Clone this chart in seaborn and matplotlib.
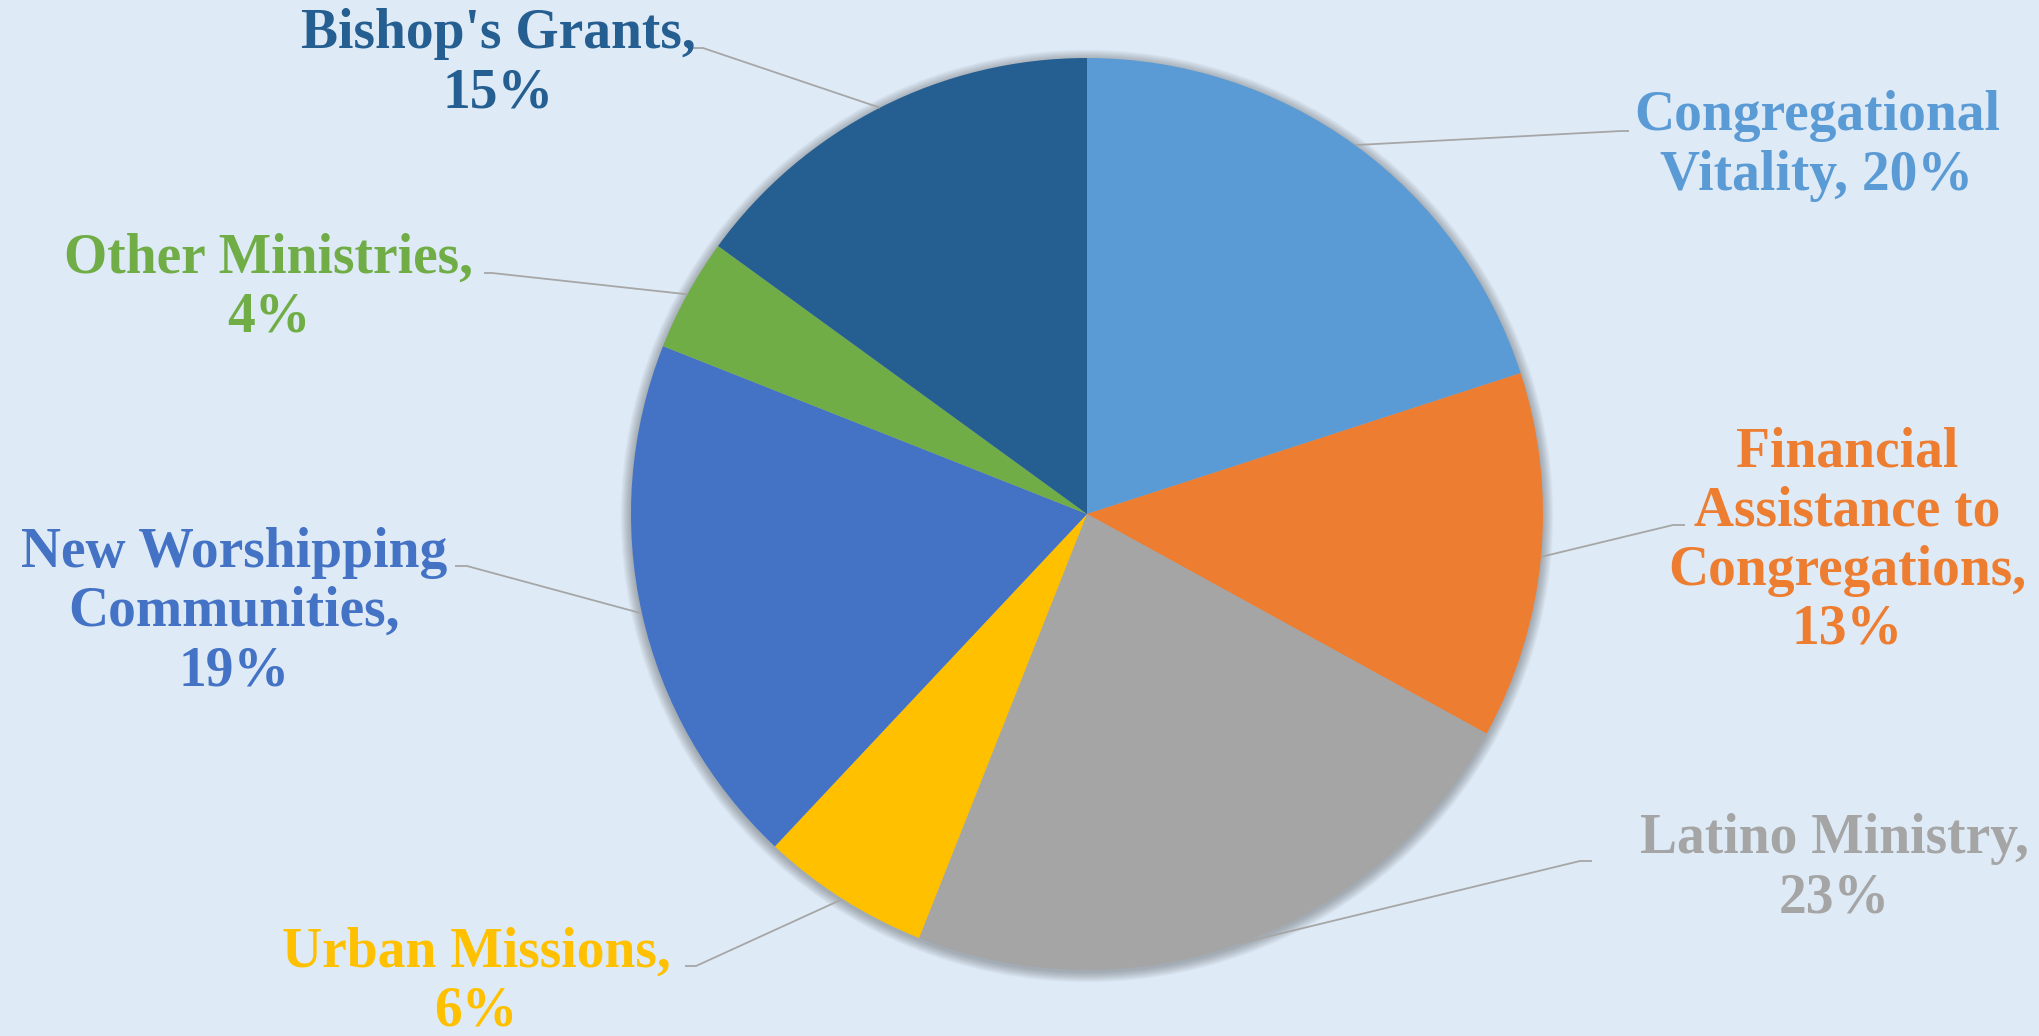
import numpy as np
import matplotlib; matplotlib.use('Agg')
import matplotlib.pyplot as plt
import seaborn as sns

# ── Data ───────────────────────────────────────────────────
categories = ['Congregational Vitality', 'Financial Assistance to Congregations',
              'Latino Ministry', 'Urban Missions', 'New Worshipping Communities',
              'Other Ministries', "Bishop's Grants"]
shares = [20, 13, 23, 6, 19, 4, 15]
label_text = ['Congregational\nVitality, {}%', 'Financial\nAssistance to\nCongregations,\n{}%',
              'Latino Ministry,\n{}%', 'Urban Missions,\n{}%', 'New Worshipping\nCommunities,\n{}%',
              'Other Ministries,\n{}%', "Bishop's Grants,\n{}%"]
colors = ['#5B9BD5', '#ED7D31', '#A5A5A5', '#FFC000', '#4472C4', '#70AD47', '#255E91']

# label block centre and leader start (pixels, y from top)
label_xy = [(1817, 146), (1847, 541), (1834, 869), (476, 982), (234, 612), (269, 288), (498, 64)]
leader_xy = [(1629, 131), (1685, 525), (1592, 861), (685, 966), (455, 566), (484, 273), (693, 48)]
stub = [-8, -12, -12, 11, 12, 8, 10]

W, H = 2039, 1036
BG = '#DEEBF7'
CX, CY, R = 1087, H - 514, 456

sns.set_theme(style='white')
plt.rcParams['font.family'] = ['Liberation Serif', 'DejaVu Serif']

fig = plt.figure(figsize=(W/100, H/100), dpi=100, facecolor=BG)
ax = fig.add_axes([0, 0, 1, 1])
ax.set_facecolor(BG)

# soft grey shadow round the pie
for k in range(1, 14):
    ax.add_patch(plt.Circle((CX, CY - 2), R + k*0.8, color='#404040', alpha=0.03, lw=0, zorder=1))

wedges, _ = ax.pie(shares, colors=colors, startangle=90, counterclock=False,
                   radius=R, center=(CX, CY), frame=True,
                   wedgeprops=dict(linewidth=0, zorder=2))
ax.set_xlim(0, W); ax.set_ylim(0, H); ax.set_aspect('equal'); ax.axis('off')

for i, w in enumerate(wedges):
    mid = np.deg2rad((w.theta1 + w.theta2) / 2)
    ex, ey = CX + R*np.cos(mid), CY + R*np.sin(mid)
    lx, ly = label_xy[i]; sx, sy = leader_xy[i]
    ax.text(lx, H - ly, label_text[i].format(shares[i]), ha='center', va='center',
            color=colors[i], fontsize=40, fontweight='bold', linespacing=1.18, zorder=5)
    ax.plot([sx, sx + stub[i], ex], [H - sy, H - sy, ey], color='#A6A6A6', lw=1.3, zorder=4,
            solid_capstyle='butt')

plt.savefig('out.png', dpi=100, facecolor=BG)
